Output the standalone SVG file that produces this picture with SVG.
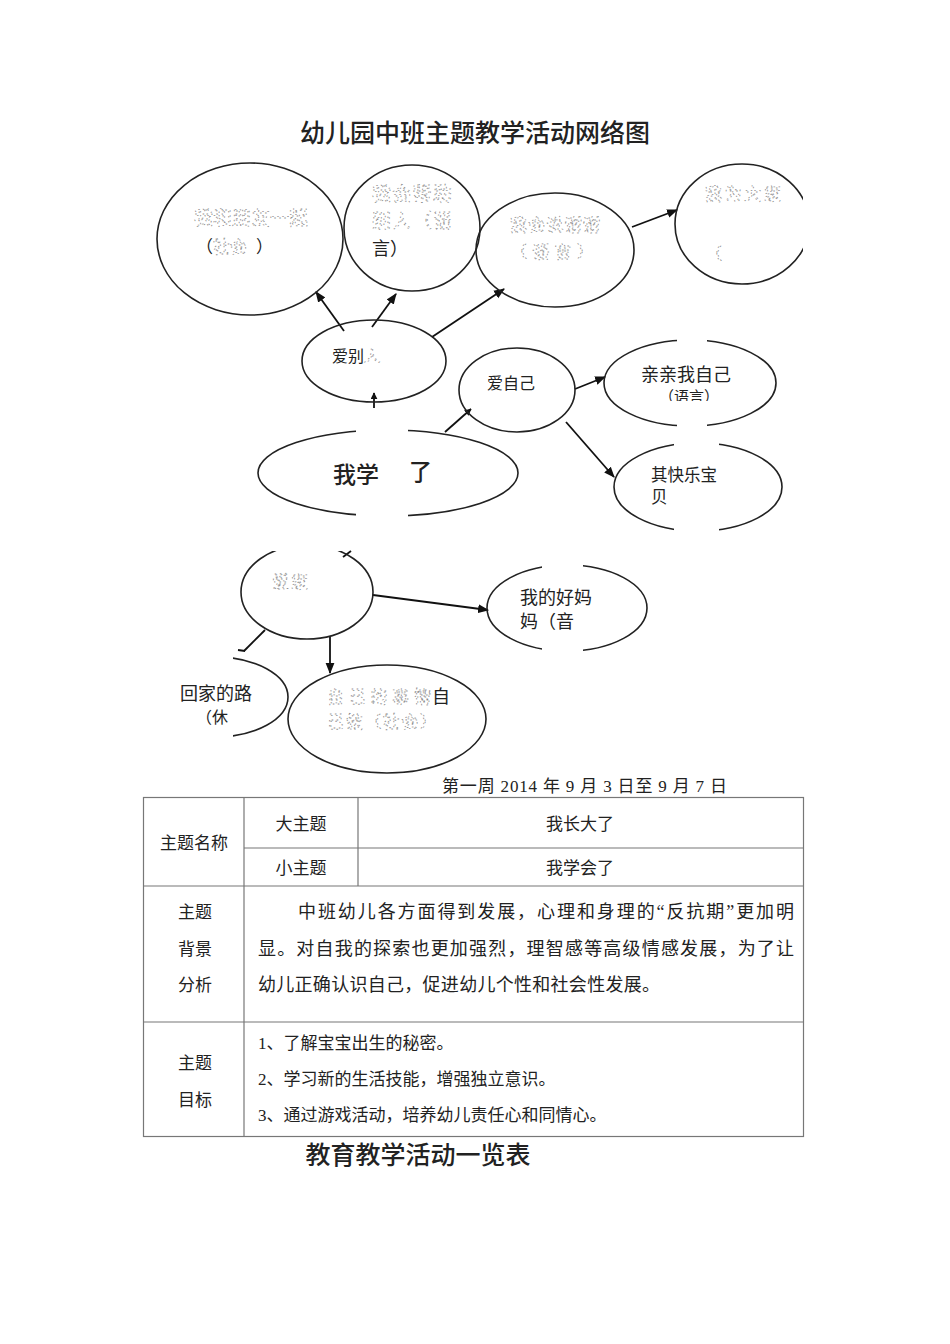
<svg xmlns="http://www.w3.org/2000/svg" width="950" height="1344" viewBox="0 0 950 1344">
<style>
.e{fill:none;stroke:#222;stroke-width:1.6}
.c{stroke:#111;stroke-width:1.8;fill:none}
.t{font-family:"Noto Sans CJK SC","Noto Sans",sans-serif;fill:#222}
.g{font-family:"Noto Sans CJK SC","Noto Sans",sans-serif;fill:none;stroke:#8a8a8a;stroke-width:0.8;stroke-dasharray:1.5 3.5}
.s{font-family:"Liberation Serif","Noto Sans CJK SC",serif;fill:#222}
.tl{stroke:#777;stroke-width:1.2;fill:none}
.gap{fill:#fff;stroke:none}
</style>
<defs>
<marker id="a" viewBox="0 0 10 10" refX="9" refY="5" markerWidth="7" markerHeight="7" orient="auto" markerUnits="userSpaceOnUse">
<path d="M0,0 L10,5 L0,10 z" fill="#111"/>
</marker>
<marker id="b" viewBox="0 0 10 10" refX="9" refY="5" markerWidth="11" markerHeight="11" orient="auto" markerUnits="userSpaceOnUse">
<path d="M0,1 L10,5 L0,9 z" fill="#111"/>
</marker>
<clipPath id="cr"><rect x="0" y="0" width="803" height="1344"/></clipPath>
<clipPath id="cl"><rect x="233" y="600" width="200" height="200"/></clipPath>
<clipPath id="ct"><rect x="0" y="551" width="950" height="200"/></clipPath>
</defs>
<rect width="950" height="1344" fill="#fff"/>
<text class="t" x="475" y="142" font-size="25" text-anchor="middle" font-weight="500">幼儿园中班主题教学活动网络图</text>

<g id="connectors">
<line class="c" x1="344" y1="331" x2="316" y2="292" marker-end="url(#b)"/>
<line class="c" x1="372" y1="327" x2="396" y2="294" marker-end="url(#b)"/>
<line class="c" x1="432" y1="337" x2="504" y2="289" marker-end="url(#b)"/>
<line class="c" x1="632" y1="227" x2="677" y2="210" marker-end="url(#b)"/>
<line class="c" x1="374" y1="408" x2="374" y2="393" marker-end="url(#a)"/>
<line class="c" x1="445" y1="432" x2="471" y2="409" marker-end="url(#a)"/>
<line class="c" x1="575" y1="389" x2="605" y2="377" marker-end="url(#b)"/>
<line class="c" x1="566" y1="422" x2="614" y2="477" marker-end="url(#b)"/>
<line class="c" x1="343" y1="557" x2="351" y2="551"/>
<line class="c" x1="373" y1="595" x2="488" y2="610" marker-end="url(#b)"/>
<line class="c" x1="330" y1="637" x2="330" y2="673" marker-end="url(#b)"/>
<line class="c" x1="265" y1="630" x2="244" y2="651"/>
<line class="c" x1="238" y1="650" x2="245" y2="651"/>
</g>

<g id="n1">
<ellipse class="e" cx="250" cy="239" rx="93" ry="76"/>
<text class="g" x="194" y="225" font-size="19" textLength="114">我和朋友一起</text>
<text class="t" x="196" y="253" font-size="17" fill="#444">（</text>
<text class="g" x="213" y="253" font-size="17">社会</text>
<text class="t" x="256" y="253" font-size="17" fill="#444">）</text>
</g>
<g id="n2">
<ellipse class="e" cx="412" cy="228" rx="68" ry="63"/>
<text class="g" x="372" y="201" font-size="19" textLength="80">我会帮助</text>
<text class="g" x="372" y="228" font-size="19" textLength="80">别人（语</text>
<text class="t" x="372" y="255" font-size="18" fill="#444">言）</text>
</g>
<g id="n3">
<ellipse class="e" cx="555" cy="250" rx="79" ry="57"/>
<text class="g" x="510" y="231" font-size="17" textLength="90">我会说谢谢</text>
<text class="g" x="510" y="258" font-size="17" textLength="84">（语言）</text>
</g>
<g id="n4" clip-path="url(#cr)">
<ellipse class="e" cx="742" cy="224" rx="67" ry="60"/>
<text class="g" x="705" y="200" font-size="17" textLength="76">我为大家</text>
<text class="g" x="705" y="260" font-size="17" textLength="20">（</text>
</g>
<g id="n5">
<ellipse class="e" cx="374" cy="361" rx="72" ry="41"/>
<text class="t" x="332" y="362" font-size="16" fill="#555">爱别</text>
<text class="g" x="364" y="362" font-size="16">人</text>
</g>
<g id="n6">
<ellipse class="e" cx="388" cy="473" rx="130" ry="43"/>
<rect class="gap" x="356" y="425" width="52" height="10"/>
<rect class="gap" x="356" y="511" width="52" height="10"/>
<text class="t" x="333" y="483" font-size="23" font-weight="500">我学</text>
<text class="t" x="409" y="480" font-size="23" font-weight="500">了</text>
</g>
<g id="n7">
<ellipse class="e" cx="517" cy="390" rx="58" ry="42"/>
<text class="t" x="487" y="389" font-size="16" fill="#666">爱自己</text>
</g>
<g id="n8">
<ellipse class="e" cx="690" cy="383" rx="86" ry="43"/>
<rect class="gap" x="677" y="336" width="30" height="10"/>
<rect class="gap" x="677" y="421" width="30" height="10"/>
<text class="t" x="641" y="381" font-size="18">亲亲我自己</text>
<text class="t" x="659" y="402" font-size="15" fill="#444">（语言）</text>
<rect class="gap" x="655" y="401" width="80" height="6"/>
</g>
<g id="n9">
<ellipse class="e" cx="698" cy="487" rx="84" ry="44"/>
<rect class="gap" x="674" y="439" width="45" height="10"/>
<rect class="gap" x="674" y="526" width="45" height="10"/>
<text class="t" x="651" y="481" font-size="16.5">其快乐宝</text>
<text class="t" x="651" y="503" font-size="16.5">贝</text>
</g>
<g id="n10" clip-path="url(#ct)">
<ellipse class="e" cx="307" cy="592" rx="66" ry="47"/>
<text class="g" x="272" y="588" font-size="17" textLength="36">爱家</text>
</g>
<g id="n11">
<ellipse class="e" cx="567" cy="608" rx="80" ry="43"/>
<rect class="gap" x="542" y="561" width="41" height="10"/>
<rect class="gap" x="542" y="646" width="41" height="10"/>
<text class="t" x="520" y="604" font-size="18">我的好妈</text>
<text class="t" x="520" y="628" font-size="18">妈（音</text>
</g>
<g id="n12">
<ellipse class="e" cx="215" cy="697" rx="73" ry="40" clip-path="url(#cl)"/>
<text class="t" x="180" y="700" font-size="18">回家的路</text>
<text class="t" x="196" y="723" font-size="16">（休</text>
</g>
<g id="n13">
<ellipse class="e" cx="387" cy="719" rx="99" ry="54"/>
<text class="g" x="327" y="703" font-size="17" textLength="104">自己的事情</text>
<text class="t" x="432" y="703" font-size="18">自</text>
<text class="g" x="327" y="728" font-size="17" textLength="110">己做（社会）</text>
</g>

<text class="s" x="442" y="792" font-size="17" textLength="285">第一周 2014 年 9 月 3 日至 9 月 7 日</text>

<g id="table">
<rect class="tl" x="143.5" y="797.5" width="660" height="339"/>
<line class="tl" x1="244" y1="797" x2="244" y2="1137"/>
<line class="tl" x1="358" y1="797" x2="358" y2="886"/>
<line class="tl" x1="244" y1="848" x2="803" y2="848"/>
<line class="tl" x1="143" y1="886" x2="803" y2="886"/>
<line class="tl" x1="143" y1="1022" x2="803" y2="1022"/>
<g class="s" font-size="17">
<text x="194" y="849" text-anchor="middle">主题名称</text>
<text x="301" y="830" text-anchor="middle">大主题</text>
<text x="301" y="874" text-anchor="middle">小主题</text>
<text x="580" y="830" text-anchor="middle">我长大了</text>
<text x="580" y="874" text-anchor="middle">我学会了</text>
<text x="195" y="918" text-anchor="middle">主题</text>
<text x="195" y="955" text-anchor="middle">背景</text>
<text x="195" y="991" text-anchor="middle">分析</text>
<text x="195" y="1069" text-anchor="middle">主题</text>
<text x="195" y="1106" text-anchor="middle">目标</text>
</g>
<g class="s" font-size="18">
<text x="298" y="918" textLength="496">中班幼儿各方面得到发展，心理和身理的“反抗期”更加明</text>
<text x="258" y="955" textLength="536">显。对自我的探索也更加强烈，理智感等高级情感发展，为了让</text>
<text x="258" y="991" textLength="402">幼儿正确认识自己，促进幼儿个性和社会性发展。</text>
<text x="258" y="1049" font-size="17">1、了解宝宝出生的秘密。</text>
<text x="258" y="1085" font-size="17">2、学习新的生活技能，增强独立意识。</text>
<text x="258" y="1121" font-size="17">3、通过游戏活动，培养幼儿责任心和同情心。</text>
</g>
</g>
<text class="t" x="418" y="1164" font-size="25" text-anchor="middle" font-weight="500">教育教学活动一览表</text>
</svg>
